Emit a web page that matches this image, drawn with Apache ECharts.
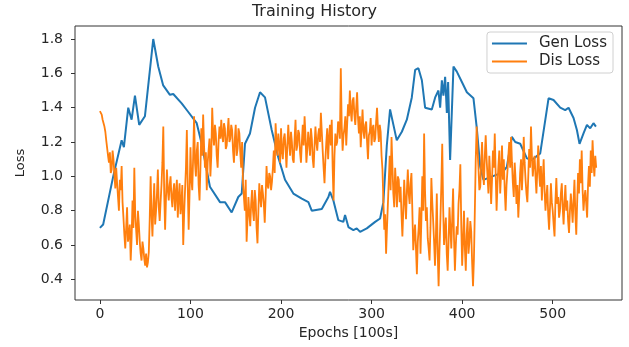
<!DOCTYPE html>
<html>
<head>
<meta charset="utf-8">
<script src="https://cdn.jsdelivr.net/npm/echarts@6/dist/echarts.min.js"></script>
<style>
html, body { margin: 0; padding: 0; background: #fff; }
#lineChart { width: 629px; height: 347px; }
</style>
</head>
<body>
<div id="lineChart"></div>
<script>
// Gen Loss (smooth curve at uneven epochs)
var genEpochs = [0, 3.6, 14.7, 24, 26.5, 31.3, 35, 38.7, 43.4, 49.7,
  58.9, 64.4, 69.9, 77.3, 81, 90.3, 97.6, 99.4, 106.9, 112.4,
  121.5, 132.6, 138.1, 145.5, 152.8, 156.6, 160.2, 165.7, 171.3, 176.8,
  182.3, 189.7, 197, 204.4, 213.6, 222.9, 230.2, 233.9, 245, 252.3,
  254.1, 257.8, 263.3, 268.8, 270.7, 274.4, 279.9, 283.6, 287.3, 294.7,
  303.9, 309.4, 313, 316.8, 320.4, 324.1, 327.8, 333.4, 338.9, 344.4,
  348.1, 351.7, 355.5, 359.1, 366.5, 370.2, 373.8, 375.7, 377.6, 379.3,
  381.2, 383.1, 384.5, 386.7, 390.4, 394.1, 399.7, 405.2, 412.5, 416.2,
  418, 419.9, 423.5, 438.3, 443.9, 449.4, 454.9, 458.6, 464.1, 471.5,
  477, 486.2, 495.4, 500.9, 508.3, 513.8, 517.5, 523, 526.7, 529.6,
  534, 537.8, 541.4, 545, 547.7];
var genLoss = [0.70, 0.72, 1.00, 1.21, 1.17, 1.40, 1.33, 1.47, 1.30, 1.35,
  1.80, 1.64, 1.53, 1.475, 1.48, 1.425, 1.375, 1.385, 1.31, 1.19,
  0.94, 0.85, 0.85, 0.79, 0.88, 0.90, 1.19, 1.25, 1.40, 1.49,
  1.46, 1.27, 1.11, 0.98, 0.90, 0.87, 0.85, 0.80, 0.81, 0.88,
  0.91, 0.86, 0.745, 0.735, 0.775, 0.705, 0.687, 0.697, 0.677, 0.697,
  0.735, 0.755, 0.85, 1.18, 1.39, 1.30, 1.21, 1.26, 1.33, 1.46,
  1.62, 1.63, 1.56, 1.40, 1.39, 1.46, 1.50, 1.40, 1.56, 1.47,
  1.58, 1.37, 1.55, 1.095, 1.64, 1.61, 1.55, 1.49, 1.455, 1.28,
  1.17, 1.056, 0.98, 1.01, 1.02, 1.056, 1.23, 1.20, 1.19, 1.105,
  1.095, 1.134, 1.455, 1.445, 1.40, 1.386, 1.40, 1.34, 1.27, 1.19,
  1.25, 1.30, 1.28, 1.31, 1.29];

// Dis Loss, one value per epoch (0 ... 548), 20 per row
var disLoss = [
  1.38, 1.37, 1.36, 1.33, 1.32, 1.29, 1.26, 1.21, 1.20, 1.12, 1.08, 1.14, 1.02, 1.04, 1.15, 1.10, 1.01, 0.93, 1.05, 0.96,
  0.88, 0.80, 0.98, 0.92, 1.06, 0.85, 0.76, 0.66, 0.58, 0.70, 0.82, 0.62, 0.66, 0.72, 0.51, 0.64, 0.86, 0.70, 1.05, 0.78,
  0.69, 0.60, 0.80, 0.72, 0.62, 0.55, 0.51, 0.62, 0.58, 0.52, 0.48, 0.55, 0.47, 0.50, 0.56, 0.75, 1.00, 0.78, 0.65, 0.82,
  0.96, 0.72, 0.80, 0.90, 1.04, 0.82, 0.74, 0.85, 0.95, 1.08, 1.29, 0.90, 0.69, 0.88, 1.04, 0.92, 0.86, 0.95, 1.00, 0.88,
  0.82, 0.91, 0.96, 0.80, 0.90, 0.98, 0.76, 0.88, 0.96, 0.78, 0.85, 0.95, 0.60, 0.78, 0.92, 1.05, 1.27, 0.94, 0.69, 0.90,
  1.17, 0.98, 0.92, 1.12, 1.35, 1.08, 1.00, 1.15, 1.20, 0.95, 0.86, 1.05, 1.28, 1.12, 1.36, 1.18, 1.05, 1.14, 0.92, 1.08,
  1.15, 1.22, 1.00, 1.12, 1.40, 1.25, 1.18, 1.30, 1.25, 1.12, 1.05, 1.20, 1.29, 1.22, 1.33, 1.24, 1.20, 1.31, 1.28, 1.16,
  1.18, 1.26, 1.34, 1.20, 1.22, 1.30, 1.27, 1.15, 1.08, 1.22, 1.30, 1.12, 1.16, 1.28, 1.25, 1.14, 1.05, 1.20, 0.96, 0.88,
  0.80, 0.98, 0.62, 0.75, 0.88, 0.78, 0.71, 0.84, 0.92, 0.80, 0.74, 0.92, 0.86, 0.70, 0.61, 0.80, 0.96, 0.88, 0.82, 0.95,
  0.90, 0.84, 0.73, 0.88, 1.06, 0.95, 0.93, 1.02, 1.00, 0.92, 0.97, 1.05, 1.15, 1.02, 1.31, 1.20, 1.12, 1.25, 1.18, 1.08,
  1.28, 1.15, 1.10, 1.22, 1.25, 1.16, 1.05, 1.18, 1.30, 1.20, 1.12, 1.26, 1.20, 1.10, 1.08, 1.22, 1.33, 1.15, 1.18, 1.27,
  1.25, 1.14, 1.08, 1.20, 1.30, 1.18, 1.35, 1.24, 1.08, 1.16, 1.26, 1.20, 1.12, 1.28, 1.22, 1.10, 1.05, 1.18, 1.29, 1.20,
  1.15, 1.24, 1.28, 1.20, 1.37, 1.26, 1.15, 1.05, 0.96, 1.10, 1.20, 1.28, 1.10, 1.22, 1.30, 1.18, 1.33, 1.05, 0.86, 1.12,
  1.25, 1.18, 1.20, 1.32, 1.30, 1.22, 1.63, 1.30, 1.15, 1.24, 1.28, 1.35, 1.18, 1.30, 1.42, 1.35, 1.50, 1.38, 1.32, 1.44,
  1.46, 1.36, 1.30, 1.40, 1.49, 1.34, 1.25, 1.35, 1.17, 1.28, 1.39, 1.26, 1.22, 1.30, 1.32, 1.20, 1.10, 1.24, 1.26, 1.34,
  1.18, 1.28, 1.30, 1.20, 1.22, 1.32, 1.40, 1.28, 1.20, 1.30, 1.26, 1.12, 1.04, 0.86, 0.69, 0.78, 0.55, 0.70, 0.84, 0.98,
  1.12, 0.92, 1.23, 1.06, 0.90, 0.82, 1.05, 0.95, 0.82, 1.00, 0.98, 0.85, 0.94, 0.78, 0.65, 0.80, 0.98, 0.86, 0.75, 0.92,
  1.04, 0.90, 0.84, 0.96, 1.02, 0.80, 0.57, 0.66, 0.72, 0.58, 0.43, 0.62, 0.70, 0.82, 0.55, 0.75, 1.00, 0.80, 1.25, 0.92,
  0.74, 0.82, 0.64, 0.58, 0.51, 0.70, 0.99, 0.85, 0.74, 0.62, 0.48, 0.65, 0.90, 0.55, 0.36, 0.58, 0.75, 0.95, 1.19, 0.82,
  0.60, 0.68, 0.76, 0.55, 0.45, 0.62, 0.82, 0.70, 0.58, 0.75, 0.93, 0.64, 0.45, 0.60, 0.71, 0.66, 0.84, 0.92, 1.07, 0.72,
  0.48, 0.62, 0.80, 0.58, 0.45, 0.66, 0.76, 0.55, 0.62, 0.74, 0.68, 0.50, 0.36, 0.52, 0.80, 1.10, 1.29, 1.15, 1.05, 0.92,
  0.94, 1.08, 1.20, 1.02, 0.95, 1.12, 1.24, 1.10, 1.00, 0.90, 1.12, 1.00, 0.84, 0.98, 1.15, 1.05, 1.25, 1.02, 0.80, 0.95,
  1.06, 1.15, 0.90, 1.02, 1.18, 0.98, 1.10, 0.92, 0.80, 0.95, 1.03, 1.12, 1.20, 1.05, 1.23, 1.08, 0.96, 0.88, 1.08, 0.98,
  0.84, 0.95, 0.76, 0.88, 1.02, 1.10, 0.92, 1.05, 1.23, 1.08, 0.98, 0.90, 0.85, 1.00, 1.16, 1.05, 1.29, 1.12, 1.00, 1.08,
  1.12, 1.00, 0.90, 1.04, 1.18, 1.02, 0.94, 1.06, 0.86, 0.98, 1.10, 0.92, 0.80, 0.88, 0.95, 0.78, 0.69, 0.82, 0.96, 0.85,
  0.80, 0.72, 0.65, 0.86, 0.99, 0.84, 0.88, 0.76, 0.80, 0.90, 0.96, 0.82, 0.72, 0.85, 0.95, 0.80, 0.86, 0.74, 0.67, 0.80,
  0.90, 0.82, 0.73, 0.86, 0.98, 0.78, 0.66, 0.85, 1.02, 0.90, 1.10, 0.96, 1.15, 0.92, 0.80, 0.88, 0.92, 0.84, 0.76, 0.95,
  1.06, 0.94, 1.15, 1.02, 1.21, 1.08, 1.00, 1.12, 1.05];

var xTicks = [0, 100, 200, 300, 400, 500];
var yTicks = [0.4, 0.6, 0.8, 1.0, 1.2, 1.4, 1.6, 1.8];

var genData = genEpochs.map(function (e, i) { return [e, genLoss[i]]; });
var disData = disLoss.map(function (v, i) { return [i, v]; });

var textColor = '#262626';
var fontName = 'DejaVu Sans';

var options = {
  backgroundColor: '#fff',
  animation: false,
  title: {
    text: 'Training History',
    left: 'center',
    top: 4,
    padding: 0,
    textStyle: { fontFamily: fontName, fontSize: 16, fontWeight: 'normal', color: textColor }
  },
  color: ['#1f77b4', '#ff7f0e'],
  legend: {
    orient: 'vertical',
    right: 16,
    top: 32,
    icon: 'rect',
    itemWidth: 35,
    itemHeight: 2,
    itemGap: 3,
    padding: [4, 6, 4, 5],
    borderColor: '#d0d0d0',
    borderWidth: 1,
    borderRadius: 3,
    backgroundColor: 'rgba(255,255,255,0.85)',
    textStyle: { fontFamily: fontName, fontSize: 15, color: textColor, padding: [0, 0, 0, 7] },
    data: ['Gen Loss', 'Dis Loss']
  },
  grid: {
    left: 75,
    right: 7,
    top: 26,
    bottom: 47,
    show: true,
    borderColor: '#333',
    borderWidth: 1,
    containLabel: false
  },
  xAxis: {
    type: 'value',
    min: -27.5,
    max: 576.5,
    name: 'Epochs [100s]',
    nameLocation: 'middle',
    nameGap: 25,
    nameTextStyle: { fontFamily: fontName, fontSize: 14, color: textColor },
    axisLine: { show: false, onZero: false },
    axisTick: { show: true, length: 4, lineStyle: { color: '#333' }, customValues: xTicks },
    axisLabel: { fontFamily: fontName, fontSize: 14, color: textColor, margin: 7, customValues: xTicks },
    splitLine: { show: false }
  },
  yAxis: {
    type: 'value',
    min: 0.28,
    max: 1.876,
    name: 'Loss',
    nameLocation: 'middle',
    nameGap: 48,
    nameTextStyle: { fontFamily: fontName, fontSize: 13, color: textColor },
    axisLine: { show: false, onZero: false },
    axisTick: { show: true, length: 4, lineStyle: { color: '#333' }, customValues: yTicks },
    axisLabel: {
      fontFamily: fontName, fontSize: 14, color: textColor, margin: 12,
      customValues: yTicks,
      formatter: function (v) { return v.toFixed(1); }
    },
    splitLine: { show: false }
  },
  series: [
    {
      name: 'Gen Loss',
      type: 'line',
      data: genData,
      showSymbol: false,
      symbol: 'none',
      lineStyle: { width: 2 }
    },
    {
      name: 'Dis Loss',
      type: 'line',
      data: disData,
      showSymbol: false,
      symbol: 'none',
      lineStyle: { width: 1.8 }
    }
  ]
};

echarts.init(document.getElementById('lineChart')).setOption(options);
</script>
</body>
</html>
